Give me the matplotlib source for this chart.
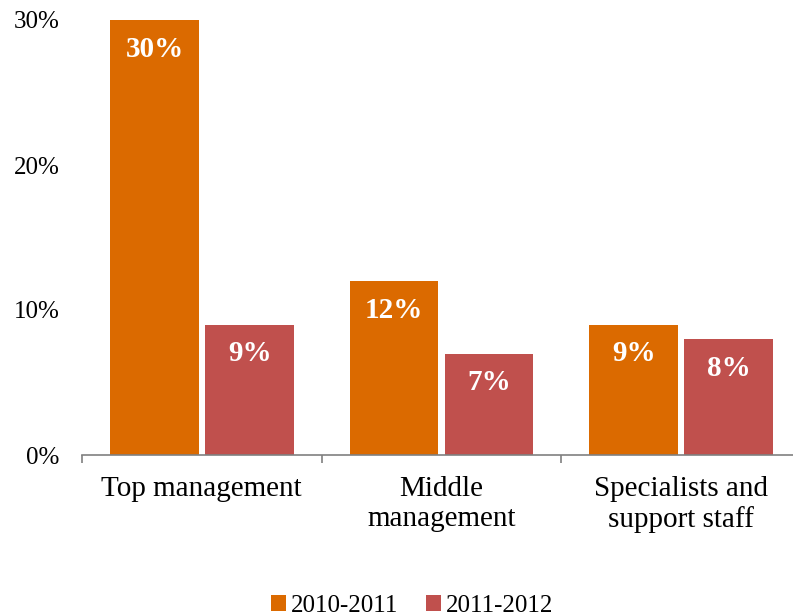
import matplotlib
matplotlib.use("Agg")
import matplotlib.pyplot as plt
import numpy as np

categories = ["Top management", "Middle\nmanagement", "Specialists and\nsupport staff"]
series_names = ["2010-2011", "2011-2012"]
values_2010 = [30, 12, 9]
values_2011 = [9, 7, 8]
yticks = [0, 10, 20, 30]
ytick_labels = ["0%", "10%", "20%", "30%"]

colors = ["#DB6A00", "#C0504D"]
FONT = ["Liberation Serif", "DejaVu Serif"]
plt.rcParams["font.family"] = FONT

fig = plt.figure(figsize=(7.93, 6.16), dpi=100)
ax = fig.add_axes([82 / 793, 1 - 455 / 616, (800.5 - 82) / 793, (455 - 20) / 616])

x = np.arange(len(categories))
w = 0.37
b1 = ax.bar(x - 0.197, values_2010, w, color=colors[0], label=series_names[0])
b2 = ax.bar(x + 0.2, values_2011, w, color=colors[1], label=series_names[1])

for bars, vals in ((b1, values_2010), (b2, values_2011)):
    for rect, v in zip(bars, vals):
        ax.annotate(f"{v}%", (rect.get_x() + rect.get_width() / 2, rect.get_height()),
                    xytext=(0, -21), textcoords="offset points", ha="center", va="center",
                    color="white", fontsize=21, fontweight="bold")

ax.set_xlim(-0.5, len(categories) - 0.5)
ax.set_ylim(0, 30)
ax.set_yticks(yticks)
ax.set_yticklabels(ytick_labels, fontsize=18)
ax.tick_params(axis="y", length=0, pad=16)
ax.set_xticks(x)
ax.set_xticklabels(categories, fontsize=21, linespacing=1.2)
ax.tick_params(axis="x", length=0, pad=15)
ax.set_xticks(np.arange(-0.5, len(categories), 1.0), minor=True)
ax.tick_params(axis="x", which="minor", length=6, color="#808080", width=1.2)

for s in ("top", "right", "left"):
    ax.spines[s].set_visible(False)
ax.spines["bottom"].set_color("#808080")
ax.spines["bottom"].set_linewidth(1.2)

leg = fig.legend(handles=[b1, b2], labels=series_names, loc="center",
                 bbox_to_anchor=(412 / 793, 1 - 606 / 616), ncol=2, frameon=False,
                 fontsize=18, handlelength=0.6, handleheight=0.6, handletextpad=0.2,
                 columnspacing=1.1)

fig.savefig("out.png", dpi=100)
